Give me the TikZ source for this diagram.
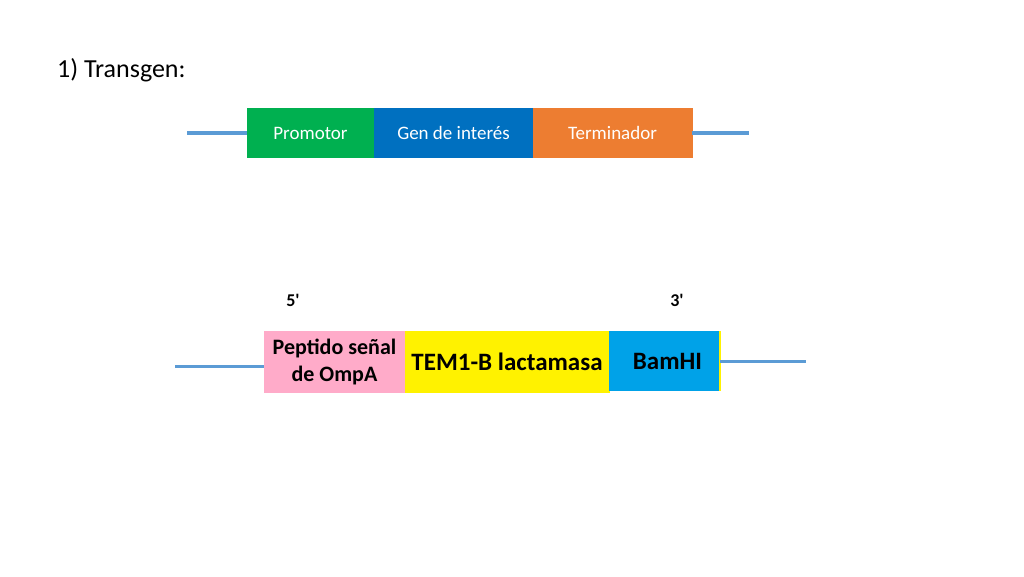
\documentclass[tikz,border=0pt]{standalone}
\usepackage{fontspec}
\setmainfont{Carlito}
\usetikzlibrary{positioning}
\definecolor{dnablue}{HTML}{5B9BD5}
\definecolor{promgreen}{HTML}{00B050}
\definecolor{genblue}{HTML}{0070C0}
\definecolor{termorange}{HTML}{ED7D31}
\definecolor{ompapink}{HTML}{FFABC9}
\definecolor{temyellow}{HTML}{FFF200}
\definecolor{bamblue}{HTML}{00A2E8}
\tikzset{
  x=1pt, y=-1pt,
  dna/.style = {draw=dnablue, line width=4pt},
  part/.style = {inner sep=0pt, outer sep=0pt, minimum height=49pt, text=white,
    text height=15pt, text depth=2pt, font=\fontsize{19}{19}\selectfont},
  seq/.style = {inner sep=0pt, outer sep=0pt, minimum height=61pt, text=black, align=center,
    font=\bfseries\fontsize{22}{27}\selectfont},
  prime/.style = {inner sep=0pt, font=\bfseries\fontsize{18}{18}\selectfont},
}

\begin{document}
\begin{tikzpicture}
    \path[use as bounding box, fill=white] (0,0) rectangle (1024,576);
    \node[anchor=west, inner sep=0pt, font=\fontsize{26}{26}\selectfont] (title) at (57,70) {1) Transgen:};
    % transgen
    \node [part, fill=promgreen, draw=promgreen, minimum width=127pt, anchor=north west] (prom) at (247,108) {Promotor};
    \node [part, fill=genblue, draw=genblue, minimum width=159pt, right=0pt of prom] (gen) {Gen de interés};
    \node [part, fill=termorange, draw=termorange, minimum width=159pt, right=0pt of gen] (term) {Terminador};
    \coordinate (tl) at (187,133);
    \coordinate (tr) at (749,133);
    \draw [dna] (tl) -- (tl -| prom.west);
    \draw [dna] (tr -| term.east) -- (tr);
    % construct
    \node [seq, fill=ompapink, draw=ompapink, minimum width=141pt, anchor=north west] (ompa) at (264,331) {Peptido señal\\de OmpA};
    \node [seq, fill=temyellow, draw=temyellow, minimum width=204pt, right=0pt of ompa, font=\bfseries\fontsize{25}{25}\selectfont] (tem) {TEM1-B lactamasa};
    \node [seq, fill=bamblue, minimum width=111pt, minimum height=60pt, anchor=north west, font=\bfseries\fontsize{25}{25}\selectfont] (bam) at (tem.north east) {\hspace{6pt}BamHI};
    \draw [temyellow, line width=1.5pt] (bam.north east) -- (bam.south east);
    \coordinate (bl) at (175,366);
    \coordinate (br) at (806,361);
    \draw [dna, line width=3pt] (bl) -- (bl -| ompa.west);
    \draw [dna, line width=3pt] (br -| bam.east) -- (br);
    \node [prime] (five) at (293,300) {5\textquotesingle};
    \node [prime] (three) at (677,300) {3\textquotesingle};
\end{tikzpicture}
\end{document}
